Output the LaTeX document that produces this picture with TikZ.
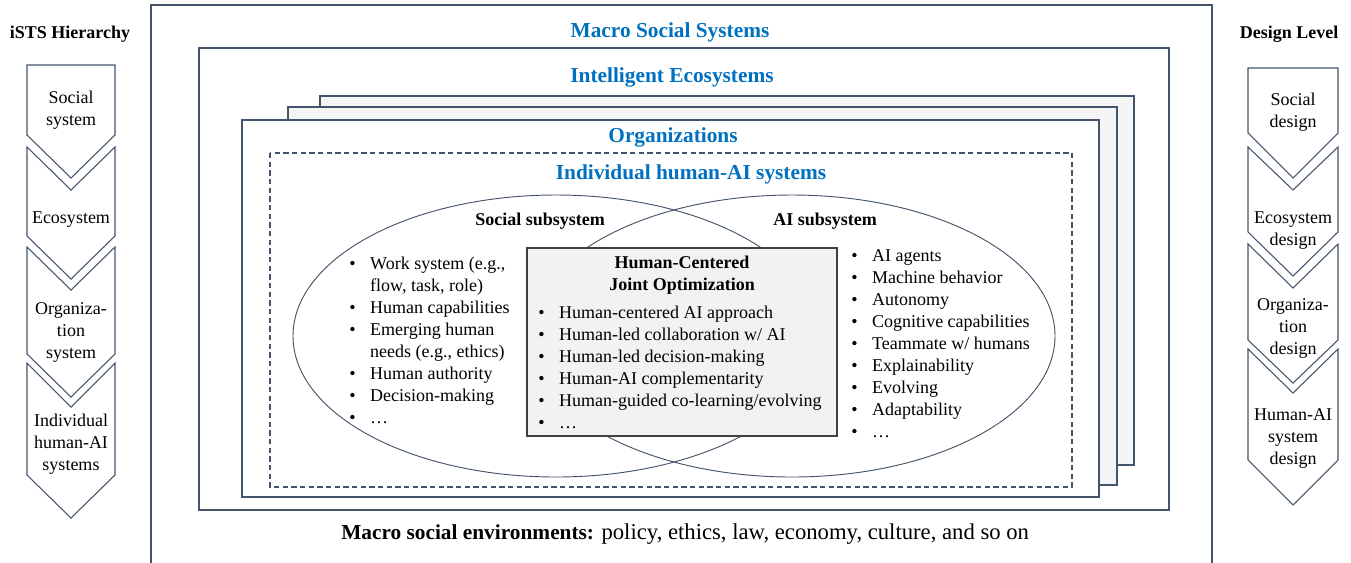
\documentclass[tikz,border=0pt]{standalone}
\usepackage{fontspec}
\setmainfont{Liberation Serif}
\definecolor{edgec}{RGB}{68,84,106}
\definecolor{ttlc}{RGB}{0,112,192}
\definecolor{paperc}{RGB}{245,245,245}
\definecolor{boxc}{RGB}{242,242,242}
\newcommand\blist[1]{\begin{tabular}[t]{@{}l@{\hspace{11pt}}l@{}}#1\end{tabular}}
\begin{document}
\begin{tikzpicture}[x=0.75pt,y=-0.75pt,
  frame/.style={draw=edgec, line width=0.9pt},
  backsheet/.style={draw=edgec, line width=0.9pt, fill=paperc},
  ell/.style={draw=edgec, line width=0.7pt},
  chev/.style={draw=edgec, line width=0.8pt, line join=miter},
  ttl/.style={text=ttlc, font=\fontsize{16}{19}\selectfont\bfseries, inner sep=0pt},
  txt/.style={font=\fontsize{13.5}{16.5}\selectfont, inner sep=0pt},
  bhead/.style={font=\fontsize{13.5}{16.5}\selectfont\bfseries, inner sep=0pt},
  ctxt/.style={font=\fontsize{13.5}{16.5}\selectfont, align=center, inner sep=0pt}]
\useasboundingbox (0,0) rectangle (1351,562);

% outer frame (bottom edge outside the picture)
\draw[frame] (151,564) -- (151,5) -- (1212,5) -- (1212,564);
\node[ttl] (macro) at (670,32) {Macro Social Systems};

% intelligent ecosystems
\draw[frame] (199,48) rectangle (1169,510);
\node[ttl] (eco) at (672,77) {Intelligent Ecosystems};

% stacked organizations
\draw[backsheet] (320,96) rectangle (1134,465);
\draw[backsheet] (288,107) rectangle (1117,485);
\draw[frame, fill=white] (242,120) rectangle (1099,497);
\node[ttl] (org) at (673,137) {Organizations};

% individual human-AI systems
\draw[frame, dashed, line width=0.8pt, dash pattern=on 4pt off 2.5pt] (270,153) rectangle (1072,487);
\node[ttl] (ind) at (691,174) {Individual human-AI systems};

% ellipses
\draw[ell] (556,336) ellipse [x radius=197.25pt, y radius=105.75pt];
\draw[ell] (792,336) ellipse [x radius=197.25pt, y radius=105.75pt];

\node[bhead] (soc) at (540,221) {Social subsystem};
\node[bhead] (ais) at (825,221) {AI subsystem};

% center box
\draw[draw=black!75, line width=0.8pt, fill=boxc] (527,248) rectangle (837,436);
\node[bhead, align=center] (hc) at (682,275) {Human-Centered\\Joint Optimization};

\node[txt, anchor=base west] (clist) at (538,318) {\blist{%
\textbullet & Human-centered AI approach\\
\textbullet & Human-led collaboration w/ AI\\
\textbullet & Human-led decision-making\\
\textbullet & Human-AI complementarity\\
\textbullet & Human-guided co-learning/evolving\\
\textbullet & …}};

\node[txt, anchor=base west] (slist) at (349,269) {\blist{%
\textbullet & Work system (e.g.,\\
 & flow, task, role)\\
\textbullet & Human capabilities\\
\textbullet & Emerging human\\
 & needs (e.g., ethics)\\
\textbullet & Human authority\\
\textbullet & Decision-making\\
\textbullet & …}};

\node[txt, anchor=base west] (alist) at (851,261) {\blist{%
\textbullet & AI agents\\
\textbullet & Machine behavior\\
\textbullet & Autonomy\\
\textbullet & Cognitive capabilities\\
\textbullet & Teammate w/ humans\\
\textbullet & Explainability\\
\textbullet & Evolving\\
\textbullet & Adaptability\\
\textbullet & …}};

% bottom text
\node[anchor=base west, font=\fontsize{16}{19}\selectfont, inner sep=0pt] (env) at (341,539)
  {\textbf{Macro social environments:}\hspace{0.35em}{\fontsize{17}{19}\selectfont policy, ethics, law, economy, culture, and so on}};

% left hierarchy
\node[bhead] (lh) at (70,34) {iSTS Hierarchy};
\draw[chev] (27,65) -- (115,65) -- (115,135) -- (71,178) -- (27,135) -- cycle;
\draw[chev] (27,147) -- (71,190) -- (115,147) -- (115,236) -- (71,279) -- (27,236) -- cycle;
\draw[chev] (27,247) -- (71,290) -- (115,247) -- (115,354) -- (71,397) -- (27,354) -- cycle;
\draw[chev] (27,363) -- (71,407) -- (115,363) -- (115,475) -- (71,518) -- (27,475) -- cycle;
\node[ctxt] (l1) at (71,110) {Social\\system};
\node[ctxt] (l2) at (71,220) {Ecosystem};
\node[ctxt] (l3) at (71,332) {Organiza-\\tion\\system};
\node[ctxt] (l4) at (71,444) {Individual\\human-AI\\systems};

% right design level
\node[bhead] (rh) at (1289,34) {Design Level};
\draw[chev] (1248,68) -- (1338,68) -- (1338,133) -- (1293,178) -- (1248,133) -- cycle;
\draw[chev] (1248,147) -- (1293,190) -- (1338,147) -- (1338,232) -- (1293,276) -- (1248,232) -- cycle;
\draw[chev] (1248,244) -- (1293,288) -- (1338,244) -- (1338,340) -- (1293,383) -- (1248,340) -- cycle;
\draw[chev] (1248,349) -- (1293,393) -- (1338,349) -- (1338,460) -- (1293,505) -- (1248,460) -- cycle;
\node[ctxt] (r1) at (1293,112) {Social\\design};
\node[ctxt] (r2) at (1293,231) {Ecosystem\\design};
\node[ctxt] (r3) at (1293,328) {Organiza-\\tion\\design};
\node[ctxt] (r4) at (1293,438) {Human-AI\\system\\design};
\end{tikzpicture}
\end{document}
